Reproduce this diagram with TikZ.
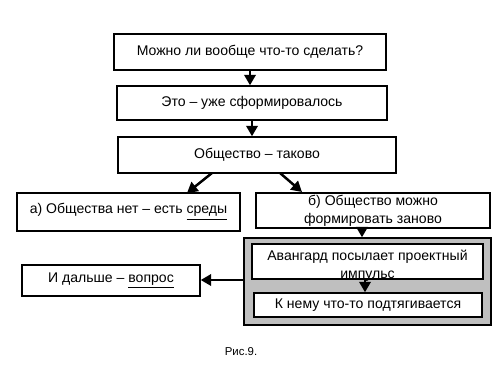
\documentclass[tikz,border=0pt]{standalone}
\usepackage{fontspec}
\setmainfont{Liberation Sans}
\usetikzlibrary{arrows.meta}
\begin{document}
\begin{tikzpicture}[x=0.02cm,y=-0.02cm,
  box/.style={draw=black,line width=0.8pt,fill=white,inner sep=0pt,font=\fontsize{8}{10.2}\selectfont,align=center},
  grp/.style={draw=black,line width=0.8pt,fill=gray!50,inner sep=0pt},
  txt/.style={inner sep=0pt,font=\fontsize{8}{10.2}\selectfont,align=center},
  arr/.style={line width=1.4pt,-{Triangle[length=6pt,width=6.5pt]}}]
\useasboundingbox[fill=white] (0,0) rectangle (500,375);
\node[box,minimum width=5.44cm,minimum height=0.72cm] (q) at (250,52) {Можно ли вообще что-то сделать?};
\node[box,minimum width=5.4cm,minimum height=0.68cm] (e) at (252,103) {Это – уже сформировалось};
\node[box,minimum width=5.56cm,minimum height=0.72cm] (s) at (257,155) {Общество – таково};
\node[box,minimum width=4.46cm,minimum height=0.76cm] (a) at (128.5,212) {а) Общества нет – есть \underline{среды}};
\node[box,minimum width=4.68cm,minimum height=0.70cm] (b) at (373,210.5) {б) Общество можно\\формировать заново};
\node[grp,minimum width=4.94cm,minimum height=1.74cm] (g) at (367.5,281.5) {};
\node[box,minimum width=4.62cm,minimum height=0.70cm] (i1) at (367.5,261.5) {};
\node[txt,anchor=north] (t1) at (367.5,250) {Авангард посылает проектный\\импульс};
\node[box,minimum width=4.56cm,minimum height=0.48cm] (i2) at (368,305) {К нему что-то подтягивается};
\node[box,minimum width=3.56cm,minimum height=0.62cm] (d) at (111,280.5) {И дальше – \underline{вопрос}};
\node[inner sep=0pt,font=\fontsize{6.5}{8}\selectfont] (cap) at (241,352) {Рис.9.};
\draw[arr] (q.south) -- (q.south |- e.north);
\draw[arr] (e.south) -- (e.south |- s.north);
\coordinate (l0) at (212,173);
\coordinate (l1) at (187,193);
\coordinate (r0) at (280,173);
\coordinate (r1) at (302,192);
\draw[arr] (l0) -- (l1);
\draw[arr] (r0) -- (r1);
\draw[arr] (b.south -| 362,0) -- (g.north -| 362,0);
\draw[arr] (i1.south -| 365,0) -- (i2.north -| 365,0);
\draw[arr] (g.west |- 0,280) -- (d.east |- 0,280);
\end{tikzpicture}
\end{document}
